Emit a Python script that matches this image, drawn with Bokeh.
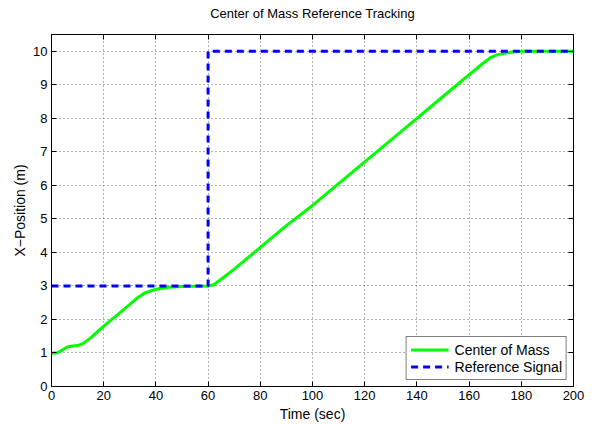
from bokeh.plotting import figure
from bokeh.models import (Range1d, LinearAxis, Legend, LegendItem, FixedTicker,
                          CustomLabelingPolicy)
from bokeh.embed import file_html
from bokeh.resources import INLINE

# Center-of-mass response (time in seconds, position in metres)
t_com = [0, 2, 4, 6, 8, 10, 12, 15, 20, 25, 30, 33, 36, 40, 45, 50, 55, 60,
         62, 65, 70, 80, 90, 100, 110, 120, 130, 140, 150, 160, 165, 168,
         171, 175, 180, 190, 200]
x_com = [1.0, 1.0, 1.08, 1.18, 1.21, 1.22, 1.28, 1.45, 1.8, 2.12, 2.45, 2.65,
         2.8, 2.9, 2.96, 2.98, 2.99, 3.0, 3.03, 3.2, 3.5, 4.15, 4.8, 5.4, 6.05,
         6.7, 7.35, 8.0, 8.65, 9.3, 9.62, 9.8, 9.9, 9.96, 10.0, 10.0, 10.0]

# Step reference signal
t_ref = [0, 60, 60, 200]
x_ref = [3, 3, 10, 10]

x_ticks = [0, 20, 40, 60, 80, 100, 120, 140, 160, 180, 200]
y_ticks = [0, 1, 2, 3, 4, 5, 6, 7, 8, 9, 10]

FONT = "Liberation Sans"
FS = "13px"
FS_LABEL = "14px"

p = figure(width=597, height=424, output_backend="svg", toolbar_location=None,
           x_range=Range1d(0, 200), y_range=Range1d(0, 10.5),
           x_axis_label="Time (sec)", y_axis_label="X\u2212Position (m)",
           min_border_left=51, min_border_right=24, min_border_top=34,
           min_border_bottom=38)

p.title.text = "Center of Mass Reference Tracking"
p.title.align = "center"
p.title.text_font = FONT
p.title.text_font_size = FS
p.title.text_font_style = "normal"
p.title.text_color = "black"
p.title.standoff = 6

p.background_fill_color = "white"
p.border_fill_color = "white"
p.outline_line_color = "black"
p.outline_line_width = 1
p.outline_line_alpha = 1

for ax in (p.xaxis[0], p.yaxis[0]):
    ax.major_label_text_font = FONT
    ax.major_label_text_font_size = FS
    ax.major_label_text_color = "black"
    ax.axis_label_text_font = FONT
    ax.axis_label_text_font_size = FS_LABEL
    ax.axis_label_text_font_style = "normal"
    ax.axis_label_text_color = "black"
    ax.axis_line_color = "black"
    ax.major_tick_in = 5
    ax.major_tick_out = 0
    ax.minor_tick_line_color = None
    ax.major_label_standoff = 4

p.xaxis.axis_label_standoff = 3
p.yaxis.axis_label_standoff = 2

p.xaxis.ticker = FixedTicker(ticks=x_ticks)
p.yaxis.ticker = FixedTicker(ticks=y_ticks)

# Box axes on top and right: inward ticks, no labels
no_labels = CustomLabelingPolicy(code="return new Set()")
top = LinearAxis(ticker=FixedTicker(ticks=x_ticks), major_label_policy=no_labels,
                 major_tick_in=5, major_tick_out=0, minor_tick_line_color=None,
                 axis_line_color="black", major_label_standoff=0)
right = LinearAxis(ticker=FixedTicker(ticks=y_ticks), major_label_policy=no_labels,
                   major_tick_in=5, major_tick_out=0, minor_tick_line_color=None,
                   axis_line_color="black", major_label_standoff=0)
p.add_layout(top, "above")
p.add_layout(right, "right")

p.grid.grid_line_color = "#666666"
p.grid.grid_line_dash = "1 3"
p.grid.grid_line_width = 1
p.xgrid.ticker = FixedTicker(ticks=x_ticks)
p.ygrid.ticker = FixedTicker(ticks=y_ticks)

com = p.line(t_com, x_com, line_color="#00ff00", line_width=3)
ref = p.line(t_ref, x_ref, line_color="#0000ff", line_width=3, line_dash="7 5")

legend = Legend(items=[LegendItem(label="Center of Mass", renderers=[com]),
                       LegendItem(label="Reference Signal", renderers=[ref])],
                location="bottom_right")
legend.label_text_font = FONT
legend.label_text_font_size = FS_LABEL
legend.label_text_color = "black"
legend.border_line_color = "black"
legend.border_line_width = 1
legend.background_fill_color = "white"
legend.background_fill_alpha = 1
legend.glyph_width = 38
legend.glyph_height = 17
legend.label_height = 17
legend.spacing = 0
legend.padding = 4
legend.margin = 6
legend.label_standoff = 6
p.add_layout(legend)

open("out.html", "w").write(file_html(p, INLINE))
